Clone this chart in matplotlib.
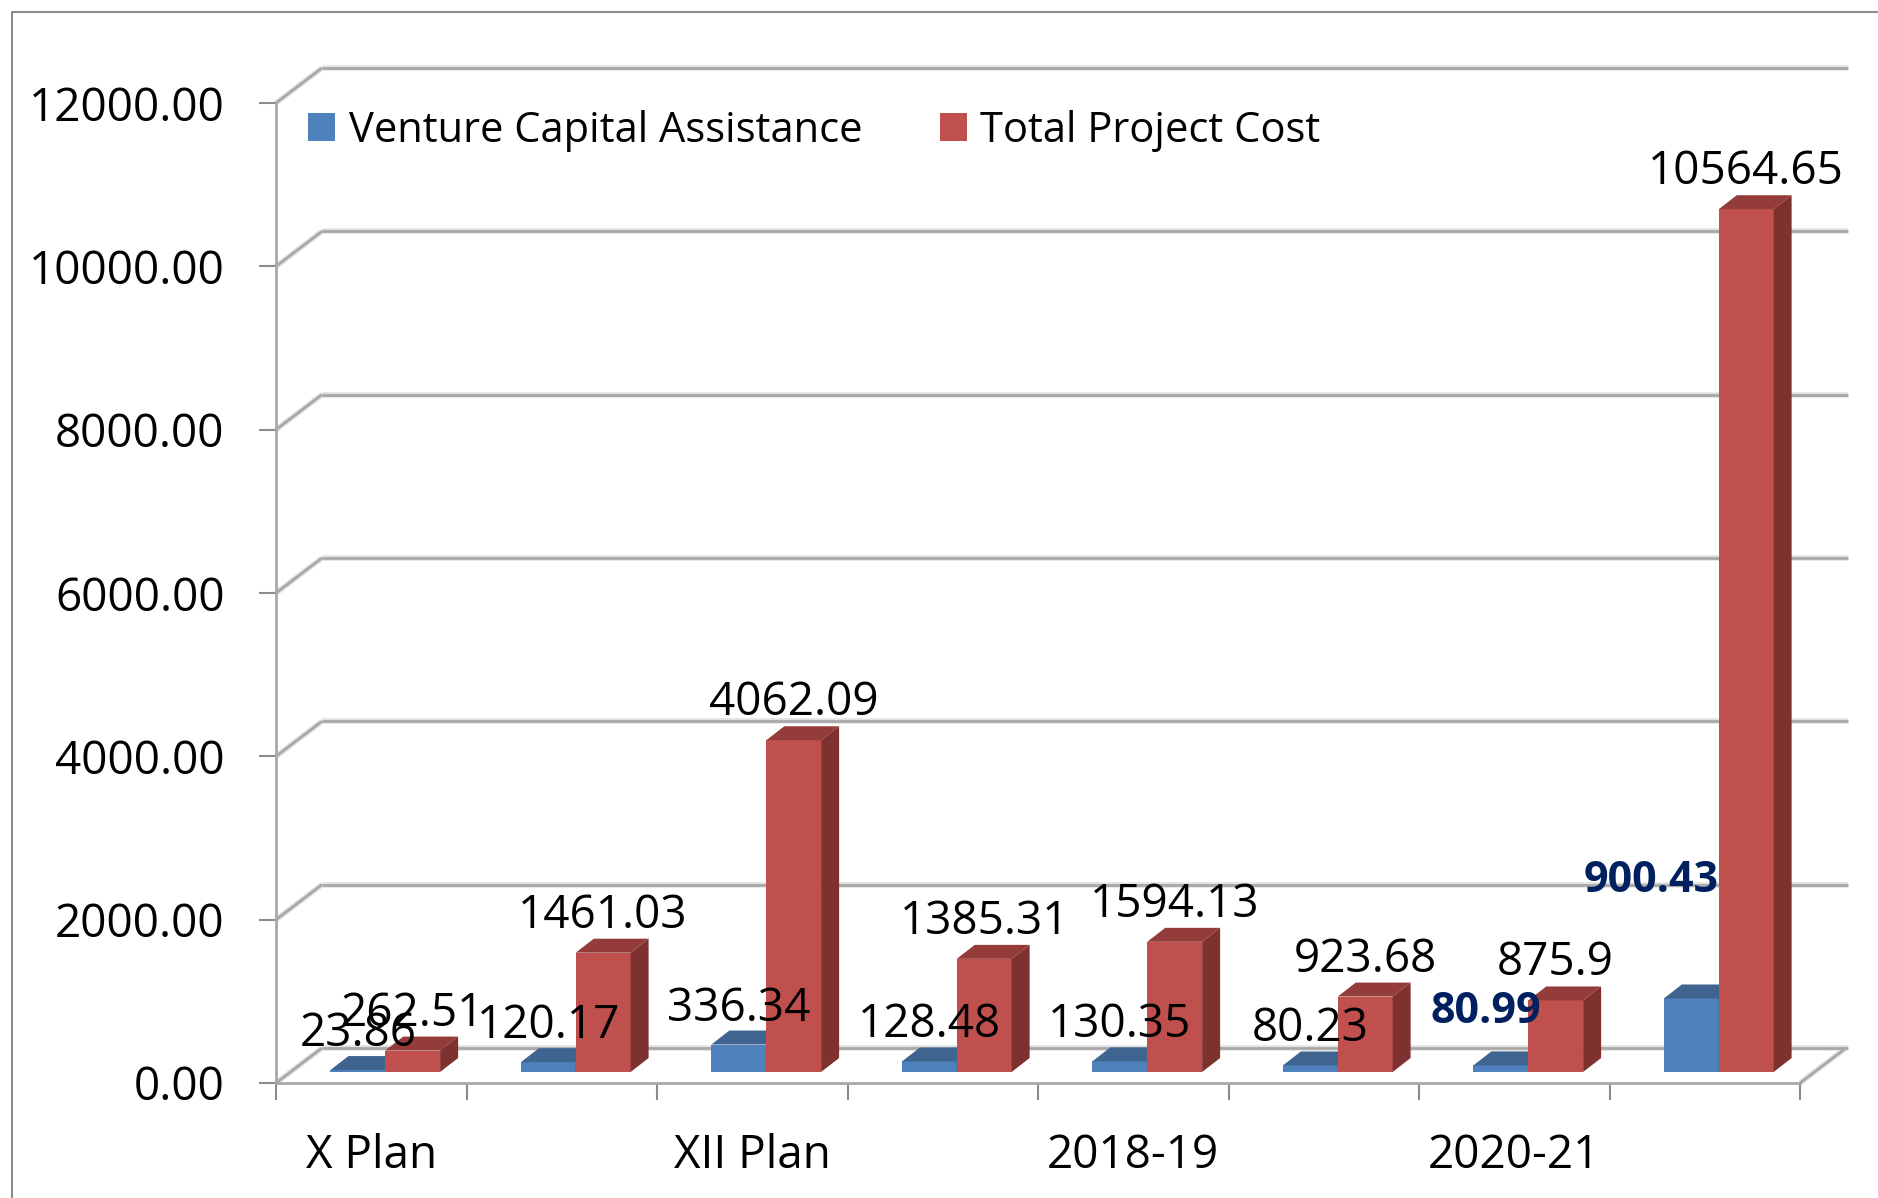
import matplotlib
matplotlib.use('Agg')
import matplotlib.pyplot as plt
import numpy as np
from matplotlib.lines import Line2D
from matplotlib.patches import Polygon

plt.rcParams['font.family'] = ['Open Sans', 'DejaVu Sans']

categories = ['X Plan', '', 'XII Plan', '', '2018-19', '', '2020-21', '']
venture = [23.86, 120.17, 336.34, 128.48, 130.35, 80.23, 80.99, 900.43]
total = [262.51, 1461.03, 4062.09, 1385.31, 1594.13, 923.68, 875.9, 10564.65]
y_ticks = [0, 2000, 4000, 6000, 8000, 10000, 12000]

W, H = 1878, 1198
GRID = '#a8a8a8'
SHADOW = '#e2e2e2'

fig = plt.figure(figsize=(W / 100, H / 100), dpi=100, facecolor='white')
ax = fig.add_axes([276 / W, 1 - 1083 / H, 1524 / W, 980 / H])
ax.set_xlim(0, 8)
ax.set_ylim(0, 12000)

# fake 3d: how far the back wall and the bars are shifted, in data units
wall_dx, wall_dy = 0.2415, 429
bar_dx, bar_dy = 0.0945, 171
base_dx, base_dy = 0.0735, 135
bar_w = 0.288


def wall_line(xs, ys):
    ax.plot(xs, ys, color=SHADOW, lw=4, zorder=1, clip_on=False, solid_capstyle='butt')
    ax.plot(xs, ys, color=GRID, lw=2, zorder=1.5, clip_on=False, solid_capstyle='butt')


for t in y_ticks:
    wall_line([0, wall_dx], [t, t + wall_dy])
    wall_line([wall_dx, 8 + wall_dx + 0.01], [t + wall_dy, t + wall_dy])
wall_line([8, 8 + wall_dx], [0, wall_dy])


def bar_3d(x, vals, face, top, side, z, label):
    ax.bar(x, vals, bar_w, bottom=base_dy, color=face, zorder=z, label=label)
    for xi, v in zip(x, vals):
        l, r = xi - bar_w / 2, xi + bar_w / 2
        y = base_dy + v
        ax.add_patch(Polygon([(l, y), (r, y), (r + bar_dx, y + bar_dy), (l + bar_dx, y + bar_dy)],
                             facecolor=top, edgecolor='none', zorder=z))
        ax.add_patch(Polygon([(r, base_dy), (r, y), (r + bar_dx, y + bar_dy), (r + bar_dx, base_dy + bar_dy)],
                             facecolor=side, edgecolor='none', zorder=z))


centers = np.arange(8) + 0.5 + base_dx
x_blue = centers - bar_w / 2
x_red = centers + bar_w / 2
bar_3d(x_blue, venture, '#4f81bd', '#3f648f', '#345373', 3, 'Venture Capital Assistance')
bar_3d(x_red, total, '#c0504d', '#943c3a', '#7d3230', 4, 'Total Project Cost')

# data labels sit just over the bar, two of them were dragged by hand in the original
nudge_blue = {6: (-15, 18), 7: (-40, 82)}
for i, v in enumerate(venture):
    dx, dy = nudge_blue.get(i, (0, 0))
    moved = i in nudge_blue
    ax.annotate(str(v), (x_blue[i], base_dy + v), xytext=(dx, 36 + dy), textcoords='offset pixels',
                ha='center', va='center', fontsize=33 if not moved else 31, zorder=6,
                color='#002060' if moved else 'black', fontweight='bold' if moved else 'normal')
for i, v in enumerate(total):
    ax.annotate(str(v), (x_red[i], base_dy + v), xytext=(0, 37), textcoords='offset pixels',
                ha='center', va='center', fontsize=33, zorder=6, color='black')

for s in ['top', 'right']:
    ax.spines[s].set_visible(False)
for s in ['left', 'bottom']:
    ax.spines[s].set_color(GRID)
    ax.spines[s].set_linewidth(2)

ax.set_yticks(y_ticks)
ax.set_yticklabels([f'{t:.2f}' for t in y_ticks], fontsize=33)
ax.tick_params(axis='y', length=12, width=1.5, color='#8c8c8c', pad=25)
ax.set_xticks(np.arange(9))
ax.set_xticklabels([])
ax.tick_params(axis='x', which='major', length=12, width=1.5, color='#8c8c8c')
ax.set_xticks(np.arange(8) + 0.5, labels=categories, minor=True)
ax.tick_params(axis='x', which='minor', length=0, pad=36, labelsize=33)

leg = ax.legend(loc='upper left', bbox_to_anchor=(0.0211, 0.9933), ncol=2, frameon=False, fontsize=30,
                handlelength=0.65, handleheight=0.65, handletextpad=0.33, columnspacing=1.85,
                borderpad=0, borderaxespad=0)
leg.set_zorder(7)

# outer frame of the chart object, only left and top are visible
fig.add_artist(Line2D([12 / W, 12 / W, 1], [0, 1 - 12 / H, 1 - 12 / H], color='#8c8c8c', lw=1.5))

fig.savefig('out.png', dpi=100)
